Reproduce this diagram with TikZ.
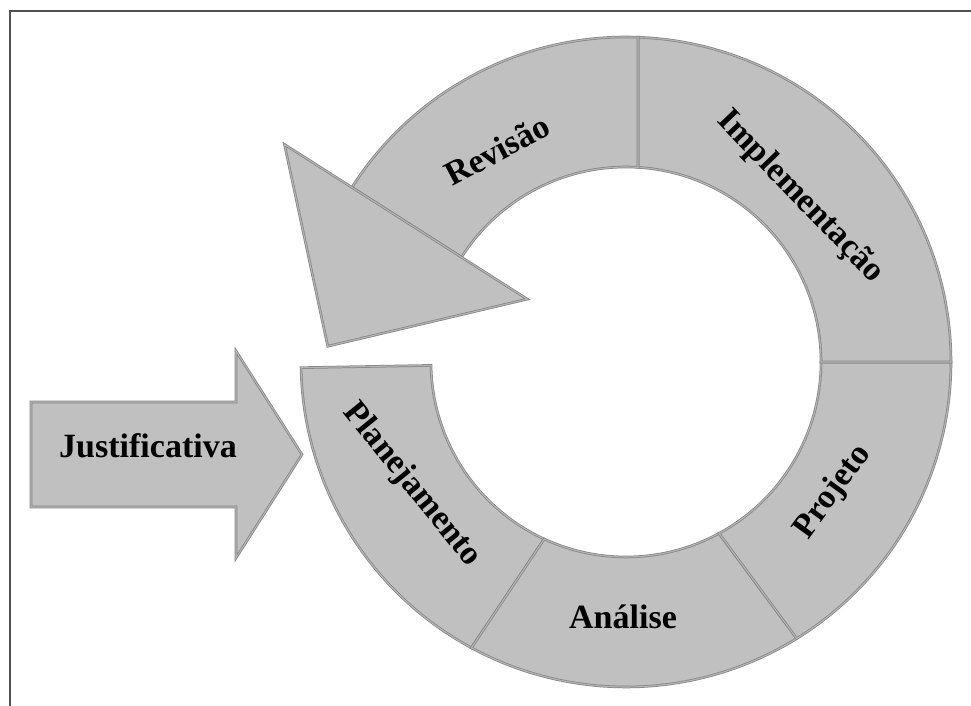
\documentclass[tikz,border=0pt]{standalone}
\usepackage{fontspec}
\setmainfont{Liberation Serif}
\usetikzlibrary{calc}
\definecolor{bandfill}{HTML}{C0C0C0}
\definecolor{bandedge}{HTML}{858585}
\definecolor{bandmid}{HTML}{B4B4B4}
\definecolor{framecol}{HTML}{505050}
\begin{document}
\begin{tikzpicture}[x=1pt,y=1pt,
  band/.style={fill=bandfill, draw=bandedge, double=bandmid, double distance=1.1pt,
    line width=0.75pt, line join=miter, miter limit=6},
  lbl/.style={font=\fontsize{34}{34}\selectfont\bfseries, text=black, inner sep=0pt}]
\useasboundingbox (0,0) rectangle (971,706);

% outer frame
\draw[framecol, line width=1.6pt] (10,0) -- (10,695) -- (971,695);

% centre of the cycle ring
\coordinate (C) at (626,344);

% Planejamento
\draw[band] ($(C)+(181:195pt)$) -- ($(C)+(181:325pt)$)
  arc[start angle=181, end angle=241.6, radius=325pt]
  -- ($(C)+(245.2:195pt)$)
  arc[start angle=245.2, end angle=181, radius=195pt] -- cycle;

% Análise
\draw[band] ($(C)+(245.2:195pt)$) -- ($(C)+(241.6:325pt)$)
  arc[start angle=241.6, end angle=301.7, radius=325pt]
  -- ($(C)+(298.5:195pt)$)
  arc[start angle=298.5, end angle=245.2, radius=195pt] -- cycle;

% Projeto
\draw[band] ($(C)+(298.5:195pt)$) -- ($(C)+(301.7:325pt)$)
  arc[start angle=301.7, end angle=360, radius=325pt]
  -- ($(C)+(0:195pt)$)
  arc[start angle=360, end angle=298.5, radius=195pt] -- cycle;

% Implementação
\draw[band] ($(C)+(0:195pt)$) -- ($(C)+(0:325pt)$)
  arc[start angle=0, end angle=87.88, radius=325pt]
  -- ($(C)+(86.47:195pt)$)
  arc[start angle=86.47, end angle=0, radius=195pt] -- cycle;

% Revisão
\draw[band] ($(C)+(86.47:195pt)$) -- ($(C)+(87.88:325pt)$)
  arc[start angle=87.88, end angle=147.5, radius=325pt]
  -- ($(C)+(147.5:195pt)$)
  arc[start angle=147.5, end angle=86.47, radius=195pt] -- cycle;

% arrowhead closing the cycle
\coordinate (hb1) at ($(C)+(147.5:117pt)$);
\coordinate (hb2) at ($(C)+(147.5:405pt)$);
\coordinate (htip) at ($(C)+(147.5:260pt)+(237.5:147pt)$);
\draw[band] (hb1) -- (hb2) -- (htip) -- cycle;

% Justificativa block arrow
\draw[band] (31,199) -- (236,199) -- (236,148) -- (302,251.5)
  -- (236,355) -- (236,304) -- (31,304) -- cycle;

% labels
\node[lbl, anchor=base] (just) at (148,248) {Justificativa};
\node[lbl, rotate=-51] (plan) at (412,221) {Planejamento};
\node[lbl, anchor=base] (anal) at (623,77) {Análise};
\node[lbl, rotate=54] (proj) at (833,214) {Projeto};
\node[lbl, rotate=-46] (impl) at (800,509) {Implementação};
\node[lbl, rotate=28] (revi) at (497,556) {Revisão};
\end{tikzpicture}
\end{document}
